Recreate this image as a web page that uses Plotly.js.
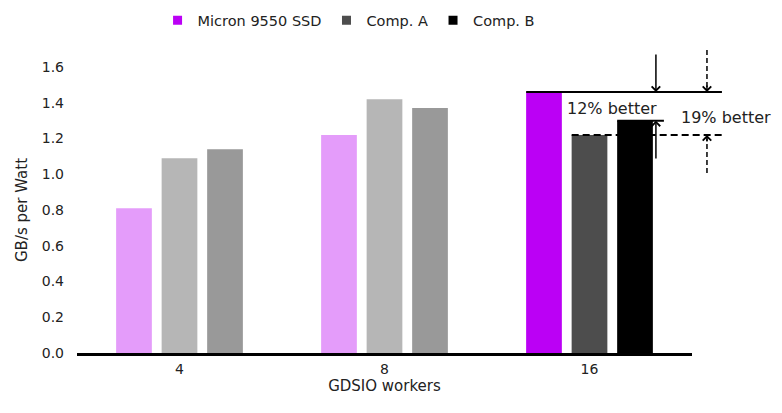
<!DOCTYPE html>
<html><head><meta charset="utf-8">
<script src="https://cdn.plot.ly/plotly-3.0.1.min.js"></script>
<style>html,body{margin:0;padding:0;background:#fff}#chart{width:782px;height:413px}</style>
</head><body><div id="chart"></div>
<script>
// ---- data ----
const categories = ['4', '8', '16'];
const seriesNames = ['Micron 9550 SSD', 'Comp. A', 'Comp. B'];
const micron = [0.81, 1.22, 1.46];
const compA = [1.09, 1.42, 1.22];
const compB = [1.14, 1.37, 1.30];
const micronColors = ['#E49CFA', '#E49CFA', '#BB00F5'];
const compAColors = ['#B6B6B6', '#B6B6B6', '#4D4D4D'];
const compBColors = ['#999999', '#999999', '#000000'];
const legendColors = ['#BB00F5', '#4D4D4D', '#000000'];
const yTickVals = [0, 0.2, 0.4, 0.6, 0.8, 1.0, 1.2, 1.4, 1.6];
const betterLabels = ['12% better', '19% better'];
const yMax = 1.6;
const hi = 2; // highlighted category (16 workers)

// ---- traces ----
const series = [micron, compA, compB];
const colors = [micronColors, compAColors, compBColors];
const traces = series.map((s, i) => ({
  type: 'bar', x: categories, y: s, name: seriesNames[i],
  marker: {color: colors[i]}, showlegend: false, hoverinfo: 'x+y'
}));
seriesNames.forEach((n, i) => traces.push({
  type: 'scatter', mode: 'markers', x: [null], y: [null], name: n,
  marker: {symbol: 'square', size: 9, color: legendColors[i]}, hoverinfo: 'skip'
}));

// ---- annotation geometry (category units -> paper) ----
const nCat = categories.length;
const px = u => (u + 0.5) / nCat;
const py = v => v / yMax;
const vTop = micron[hi], vMid = compB[hi], vLow = compA[hi];

const shapes = [
  {type: 'line', xref: 'paper', yref: 'paper', x0: px(1.691), x1: px(2.646), y0: py(vTop), y1: py(vTop), line: {color: '#000', width: 2}},
  {type: 'line', xref: 'paper', yref: 'paper', x0: px(1.913), x1: px(2.661), y0: py(vLow), y1: py(vLow), line: {color: '#000', width: 2, dash: '7px,4px'}},
  {type: 'line', xref: 'paper', yref: 'paper', x0: px(2.135), x1: px(2.363), y0: py(vMid), y1: py(vMid), line: {color: '#000', width: 2}},
  {type: 'line', xref: 'paper', yref: 'paper', x0: px(2.573), x1: px(2.573), y0: py(1.695), y1: py(vTop + 0.02), line: {color: '#000', width: 1.5, dash: '5px,3px'}},
  {type: 'line', xref: 'paper', yref: 'paper', x0: px(2.573), x1: px(2.573), y0: py(1.007), y1: py(vLow - 0.02), line: {color: '#000', width: 1.5, dash: '5px,3px'}}
];

const arrowBase = {xref: 'paper', yref: 'y', axref: 'pixel', text: '', showarrow: true,
  arrowhead: 4, arrowsize: 1.1, arrowwidth: 1.5, arrowcolor: '#000', standoff: 0, ax: 0};
const annotations = [
  Object.assign({}, arrowBase, {x: px(2.324), y: vTop, ayref: 'y', ay: 1.678}),
  Object.assign({}, arrowBase, {x: px(2.324), y: vMid, ayref: 'y', ay: 1.08}),
  Object.assign({}, arrowBase, {x: px(2.573), y: vTop, ayref: 'pixel', ay: -8}),
  Object.assign({}, arrowBase, {x: px(2.573), y: vLow, ayref: 'pixel', ay: 8}),
  {xref: 'paper', yref: 'y', x: px(2.11), y: 1.37, text: betterLabels[0], showarrow: false,
   xanchor: 'center', yanchor: 'middle', font: {size: 16, color: '#222'}},
  {xref: 'paper', yref: 'y', x: px(2.666), y: 1.32, text: betterLabels[1], showarrow: false,
   xanchor: 'center', yanchor: 'middle', font: {size: 16, color: '#222'}}
];

const layout = {
  width: 782, height: 413,
  margin: {l: 77, r: 90, t: 67, b: 60, autoexpand: false},
  paper_bgcolor: '#fff', plot_bgcolor: '#fff',
  font: {family: 'DejaVu Sans, sans-serif', size: 14, color: '#222'},
  barmode: 'group', bargap: 0.334, bargroupgap: 0.215,
  showlegend: true,
  legend: {orientation: 'h', x: 0.131, xanchor: 'left', y: 1.163, yanchor: 'middle',
           font: {size: 14.5, color: '#222'}, traceorder: 'normal'},
  xaxis: {type: 'category', range: [-0.5, 2.5], showline: true, linecolor: '#000', linewidth: 2.5,
          ticks: '', showgrid: false, zeroline: false, ticklabelstandoff: 2,
          title: {text: 'GDSIO workers', font: {size: 15}, standoff: 4}},
  yaxis: {range: [0, yMax], tickvals: yTickVals, tickformat: '.1f', showgrid: false, zeroline: false,
          showline: false, ticks: '', ticklabelstandoff: 12,
          title: {text: 'GB/s per Watt', font: {size: 15}, standoff: 10}},
  shapes: shapes,
  annotations: annotations
};

Plotly.newPlot('chart', traces, layout, {displayModeBar: false, staticPlot: true});
</script>
</body></html>
